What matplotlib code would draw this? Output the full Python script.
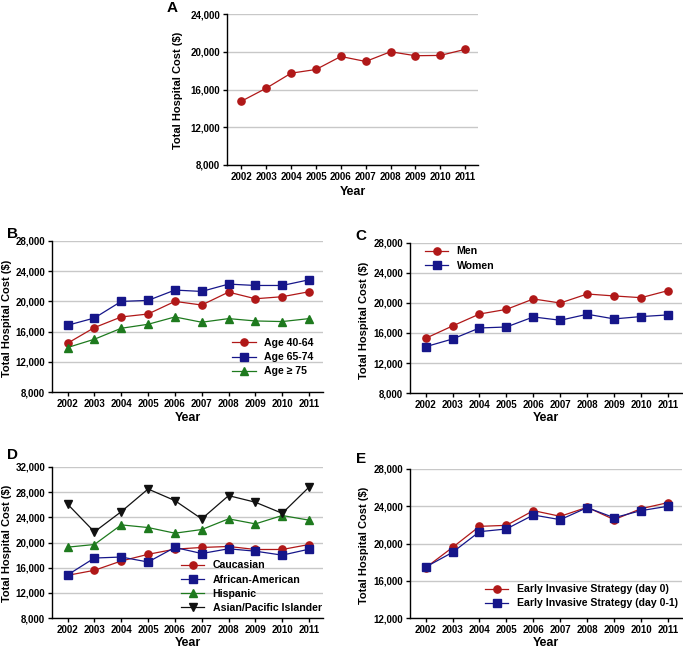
import matplotlib
matplotlib.use("Agg")
import matplotlib.pyplot as plt
from matplotlib.ticker import FuncFormatter

plt.rcParams["font.family"] = ["Liberation Sans", "DejaVu Sans"]
plt.rcParams["font.weight"] = "bold"

years = list(range(2002, 2012))

# Panel A: overall
overall = [14760, 16140, 17730, 18120, 19500, 18970, 20000, 19580, 19610, 20250]

# Panel B: age groups
age_40_64 = [14460, 16530, 17940, 18330, 20000, 19520, 21230, 20350, 20620, 21280]
age_65_74 = [16840, 17800, 20000, 20130, 21500, 21320, 22290, 22110, 22110, 22860]
age_75 = [13890, 14990, 16440, 16970, 17940, 17240, 17720, 17410, 17330, 17720]

# Panel C: sex
men = [15290, 16940, 18530, 19150, 20540, 20000, 21200, 20940, 20710, 21650]
women = [14170, 15200, 16670, 16800, 18140, 17700, 18500, 17880, 18190, 18410]

# Panel D: race
caucasian = [14780, 15580, 17060, 18120, 18940, 19210, 19370, 18890, 18890, 19680]
african_american = [14840, 17530, 17690, 16900, 19210, 18250, 19000, 18620, 17990, 18940]
hispanic = [19260, 19680, 22800, 22380, 21480, 22060, 23760, 22960, 24290, 23550]
asian = [26100, 21690, 24900, 28500, 26660, 23750, 27450, 26400, 24640, 28800]

# Panel E: early invasive strategy
day0 = [17400, 19580, 21840, 21950, 23530, 22920, 23890, 22560, 23740, 24390]
day01 = [17470, 19050, 21270, 21560, 23060, 22560, 23850, 22770, 23530, 24000]

RED = "#b01818"
BLUE = "#16168a"
GREEN = "#1e7a1e"
BLACK = "#111111"

W, H = 683, 648
fig = plt.figure(figsize=(W / 100, H / 100), dpi=100)


def px_axes(left, top, right, bottom):
    return fig.add_axes([left / W, 1 - bottom / H, (right - left) / W, (bottom - top) / H])


def style(ax, ymin, ymax, step):
    ax.set_xlim(2001.42, 2011.52)
    ax.set_ylim(ymin, ymax)
    ax.set_xticks(years)
    ax.set_yticks(range(ymin, ymax + 1, step))
    ax.yaxis.set_major_formatter(FuncFormatter(lambda v, p: f"{int(v):,}"))
    for s in ["top", "right"]:
        ax.spines[s].set_visible(False)
    for s in ["left", "bottom"]:
        ax.spines[s].set_linewidth(1.0)
        ax.spines[s].set_color("black")
    ax.yaxis.grid(True, color="#c8c8c8", linewidth=1.0)
    ax.set_axisbelow(True)
    ax.tick_params(direction="out", length=3, width=1, labelsize=7.0, pad=2)
    for lab in ax.get_xticklabels() + ax.get_yticklabels():
        lab.set_fontweight("bold")


def line(ax, y, color, marker, label=None, ms=5.2):
    ax.plot(years, y, color=color, marker=marker, markersize=ms, linewidth=0.9,
            markeredgecolor=color, label=label)


def legend(ax, loc, **kw):
    leg = ax.legend(loc=loc, frameon=False, fontsize=7.6, handlelength=2.2,
                    handletextpad=0.8, labelspacing=0.4, **kw)
    for t in leg.get_texts():
        t.set_fontweight("bold")
    return leg


def labels(ax, ylx, yly, yx, yy):
    fig.text(ylx / W, 1 - yly / H, "Total Hospital Cost ($)", rotation=90,
             ha="center", va="center", fontsize=8.0, fontweight="bold")
    fig.text(yx / W, 1 - yy / H, "Year", ha="center", va="center",
             fontsize=9, fontweight="bold")


def letter(x, y, s):
    fig.text(x / W, 1 - y / H, s, ha="center", va="center", fontsize=11, fontweight="bold")


# A
axA = px_axes(227, 14, 478, 165)
style(axA, 8000, 24000, 4000)
line(axA, overall, RED, "o")
labels(axA, 178, 90, 353, 192)
letter(172, 8, "A")

# B
axB = px_axes(52, 241, 323, 392)
style(axB, 8000, 28000, 4000)
line(axB, age_40_64, RED, "o", "Age 40-64")
line(axB, age_65_74, BLUE, "s", "Age 65-74")
line(axB, age_75, GREEN, "^", "Age \u2265 75")
legend(axB, "lower right", bbox_to_anchor=(1.0, 0.04))
labels(axB, 7, 318, 188, 418)
letter(12, 234, "B")

# C
axC = px_axes(410, 243, 682, 393)
style(axC, 8000, 28000, 4000)
line(axC, men, RED, "o", "Men")
line(axC, women, BLUE, "s", "Women")
legend(axC, "upper left", bbox_to_anchor=(0.02, 1.04))
labels(axC, 364, 320, 546, 418)
letter(361, 236, "C")

# D
axD = px_axes(52, 467, 323, 618)
style(axD, 8000, 32000, 4000)
line(axD, caucasian, RED, "o", "Caucasian")
line(axD, african_american, BLUE, "s", "African-American")
line(axD, hispanic, GREEN, "^", "Hispanic")
line(axD, asian, BLACK, "v", "Asian/Pacific Islander")
legend(axD, "lower right", bbox_to_anchor=(1.03, -0.03))
labels(axD, 7, 543, 188, 643)
letter(12, 455, "D")

# E
axE = px_axes(410, 469, 682, 618)
style(axE, 12000, 28000, 4000)
line(axE, day0, RED, "o", "Early Invasive Strategy (day 0)")
line(axE, day01, BLUE, "s", "Early Invasive Strategy (day 0-1)")
legend(axE, "lower right", bbox_to_anchor=(1.02, 0.0))
labels(axE, 364, 545, 546, 643)
letter(361, 459, "E")

fig.savefig("out.png", dpi=100)
